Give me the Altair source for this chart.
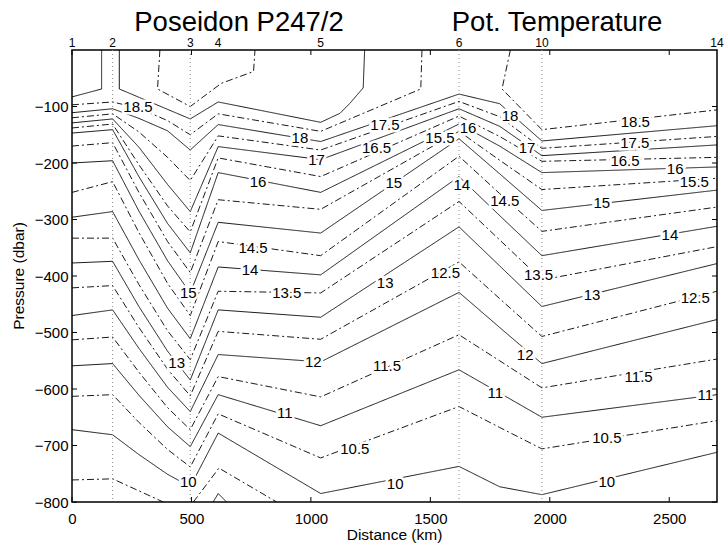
import altair as alt
import pandas as pd

# ---------------- data ----------------
# common horizontal grid (km) on which the full-width isotherms are given
grid_km = [0, 170, 280, 400, 495, 612, 1041, 1620, 1790, 1967, 2700]

# pressure (dbar) of each isotherm at the grid positions
p10  = [-672, -681, -716, -751, -773, -678, -785, -737, -773, -787, -712]
p10h = [-613, -610, -659, -707, -738, -644, -722, -631, -668, -706, -656]
p11  = [-559, -555, -611, -667, -702, -610, -665, -566, -607, -650, -610]
p11h = [-513, -508, -570, -633, -672, -578, -614, -504, -550, -598, -547]
p12  = [-470, -460, -528, -597, -640, -539, -552, -429, -491, -555, -477]
p12h = [-421, -417, -491, -565, -612, -498, -512, -375, -440, -507, -427]
p13  = [-377, -374, -454, -533, -584, -460, -473, -313, -382, -454, -378]
p13h = [-333, -333, -415, -497, -548, -427, -430, -268, -336, -407, -348]
p14  = [-296, -286, -371, -457, -511, -384, -398, -224, -293, -364, -312]
p14h = [-252, -233, -323, -413, -470, -339, -364, -188, -254, -321, -278]
p15  = [-200, -196, -285, -373, -430, -305, -324, -157, -219, -284, -248]
p15h = [-170, -164, -252, -339, -394, -265, -282, -144, -195, -247, -227]
p16  = [-147, -141, -224, -307, -359, -217, -252, -131, -170, -217, -207]
p16h = [-138, -131, -203, -276, -322, -191, -224, -117, -153, -197, -190]
p17  = [-129, -122, -172, -238, -286, -171, -194, -104, -135, -187, -168]
p17h = [-120, -113, -145, -190, -231, -152, -177, -91, -118, -174, -153]
p18  = [-111, -104, -121, -143, -177, -132, -162, -78, -95, -161, -134]

# partial isotherms (reaching the surface or the bottom)
seg19a_km = [0, 124, 124]
seg19a_p = [-83, -69, 0]
seg19b_km = [198, 198, 495, 612, 1041, 1122, 1164, 1219, 1225]
seg19b_p = [0, -69, -122, -92, -128, -112, -94, -67, 0]
seg195_km = [368, 358, 495, 625, 760, 766]
seg195_p = [0, -69, -100, -59, -38, 0]
seg185a_km = [0, 170, 280, 400, 495, 612, 1041, 1460, 1465]
seg185a_p = [-97, -92, -103, -125, -150, -113, -144, -69, 0]
seg185b_km = [1835, 1800, 1967, 2700]
seg185b_p = [0, -69, -141, -106]
seg95a_km = [0, 170, 382]
seg95a_p = [-761, -759, -800]
seg95b_km = [508, 615, 857]
seg95b_p = [-800, -740, -800]
seg9_km = [591, 612, 647]
seg9_p = [-800, -785, -800]

# inline contour labels
label_text = ["18.5", "18", "17", "16", "17.5", "16.5", "15.5", "16", "18", "17",
              "18.5", "17.5", "16.5", "16", "15.5", "15", "14", "15", "14", "14.5",
              "14.5", "14", "15", "13.5", "13", "12", "13", "12.5", "13.5", "13",
              "12.5", "12", "11.5", "11.5", "11", "11", "11", "10.5", "10.5", "10",
              "10", "10"]
label_km = [276, 954, 1024, 779, 1310, 1275, 1540, 1658, 1834, 1905,
            2358, 2356, 2315, 2525, 2605, 2218, 2503, 1347, 1632, 1812,
            758, 745, 487, 899, 438, 1010, 1311, 1563, 1953, 2177,
            2609, 1897, 1319, 2372, 1772, 2651, 891, 1184, 2239, 1353,
            2239, 487]
label_p = [-101, -155, -194, -233, -132, -174, -155, -138, -116, -173,
           -127, -165, -196, -211, -233, -271, -327, -236, -239, -268,
           -350, -389, -430, -430, -554, -553, -412, -395, -398, -433,
           -439, -539, -560, -578, -607, -610, -643, -707, -687, -769,
           -764, -765]

station_names = ["1", "2", "3", "4", "5", "6", "10", "14"]
station_km = [0, 170, 495, 612, 1041, 1620, 1967, 2700]
dotted_km = [170, 495, 1620, 1967]

x_ticks = [0, 500, 1000, 1500, 2000, 2500]
y_ticks = [-800, -700, -600, -500, -400, -300, -200, -100]

title_left = "Poseidon P247/2"
title_right = "Pot. Temperature"
x_title = "Distance (km)"
y_title = "Pressure (dbar)"

# ---------------- build table ----------------
levels = [(10.0, p10), (10.5, p10h), (11.0, p11), (11.5, p11h), (12.0, p12),
          (12.5, p12h), (13.0, p13), (13.5, p13h), (14.0, p14), (14.5, p14h),
          (15.0, p15), (15.5, p15h), (16.0, p16), (16.5, p16h), (17.0, p17),
          (17.5, p17h), (18.0, p18)]
rows = []
for lev, ps in levels:
    for i, (k, p) in enumerate(zip(grid_km, ps)):
        rows.append(dict(seg=f"L{lev}", style="solid" if float(lev).is_integer() else "dashdot",
                         km=k, p=p, i=i))
partials = [("P19a", 19.0, seg19a_km, seg19a_p), ("P19b", 19.0, seg19b_km, seg19b_p),
            ("P195", 19.5, seg195_km, seg195_p), ("P185a", 18.5, seg185a_km, seg185a_p),
            ("P185b", 18.5, seg185b_km, seg185b_p), ("P95a", 9.5, seg95a_km, seg95a_p),
            ("P95b", 9.5, seg95b_km, seg95b_p), ("P9", 9.0, seg9_km, seg9_p)]
for name, lev, ks, ps in partials:
    for i, (k, p) in enumerate(zip(ks, ps)):
        rows.append(dict(seg=name, style="solid" if float(lev).is_integer() else "dashdot",
                         km=k, p=p, i=i))
contours = pd.DataFrame(rows)

W, H = 645, 452
FONT = "Liberation Sans"

xs = alt.Scale(domain=[0, 2700], nice=False, zero=False)
ys = alt.Scale(domain=[-800, 0], nice=False, zero=False)

x_axis = alt.Axis(values=x_ticks, format="d", ticks=False, domain=False, grid=False,
                  labelFont=FONT, labelFontSize=15, labelColor="black", labelPadding=9,
                  labelFlush=False, labelOverlap=False, title=None)
y_axis = alt.Axis(values=y_ticks, format="d", ticks=False, domain=False, grid=False,
                  labelFont=FONT, labelFontSize=15, labelColor="black", labelPadding=4,
                  labelOverlap=False, title=None)

X = alt.X("km:Q", scale=xs, axis=x_axis)
Y = alt.Y("p:Q", scale=ys, axis=y_axis)

dots = alt.Chart(pd.DataFrame({"km": dotted_km})).mark_rule(
    color="#8a8a8a", strokeDash=[1, 3], strokeWidth=1
).encode(x=X, y=alt.value(0), y2=alt.value(H))

lines = alt.Chart(contours).mark_line(color="black", strokeWidth=0.9, clip=True).encode(
    x=X,
    y=Y,
    detail="seg:N",
    order="i:Q",
    strokeDash=alt.StrokeDash("style:N", scale=alt.Scale(domain=["solid", "dashdot"],
                                                         range=[[1, 0], [7, 3, 2, 3]]),
                              legend=None),
)

lab_df = pd.DataFrame({"t": label_text, "km": label_km, "p": label_p})
lab_bg = alt.Chart(lab_df).mark_text(
    font=FONT, fontSize=15, fill="white", stroke="white", strokeWidth=5,
    align="center", baseline="middle"
).encode(x=X, y=Y, text="t:N")
lab_fg = alt.Chart(lab_df).mark_text(
    font=FONT, fontSize=15, color="black", align="center", baseline="middle"
).encode(x=X, y=Y, text="t:N")

stn = alt.Chart(pd.DataFrame({"n": station_names, "km": station_km})).mark_text(
    font=FONT, fontSize=12, color="black", align="center", baseline="alphabetic"
).encode(x=X, y=alt.value(-3), text="n:N")

xt = pd.DataFrame({"km": x_ticks})
yt = pd.DataFrame({"p": y_ticks})
tick_b = alt.Chart(xt).mark_rule(color="black", strokeWidth=1).encode(
    x=X, y=alt.value(H), y2=alt.value(H - 5))
tick_t = alt.Chart(xt).mark_rule(color="black", strokeWidth=1).encode(
    x=X, y=alt.value(0), y2=alt.value(5))
tick_l = alt.Chart(yt).mark_rule(color="black", strokeWidth=1).encode(
    y=Y, x=alt.value(0), x2=alt.value(5))
tick_r = alt.Chart(yt).mark_rule(color="black", strokeWidth=1).encode(
    y=Y, x=alt.value(W), x2=alt.value(W - 5))

t_left = alt.Chart(pd.DataFrame({"t": [title_left]})).mark_text(
    font=FONT, fontSize=27.5, color="black", align="center", baseline="alphabetic"
).encode(x=alt.value(167), y=alt.value(-19), text="t:N")
t_right = alt.Chart(pd.DataFrame({"t": [title_right]})).mark_text(
    font=FONT, fontSize=27.5, color="black", align="center", baseline="alphabetic"
).encode(x=alt.value(485), y=alt.value(-19), text="t:N")
t_x = alt.Chart(pd.DataFrame({"t": [x_title]})).mark_text(
    font=FONT, fontSize=15.5, color="black", align="center", baseline="alphabetic"
).encode(x=alt.value(W / 2), y=alt.value(490), text="t:N")
t_y = alt.Chart(pd.DataFrame({"t": [y_title]})).mark_text(
    font=FONT, fontSize=15.5, color="black", align="center", baseline="alphabetic", angle=270
).encode(x=alt.value(-48), y=alt.value(H / 2), text="t:N")

chart = alt.layer(
    lines, dots, lab_bg, lab_fg, stn, tick_b, tick_t, tick_l, tick_r, t_left, t_right, t_x, t_y
).properties(
    width=W, height=H,
    padding={"left": 72, "top": 50, "right": 8, "bottom": 50},
    autosize=alt.AutoSizeParams(type="none"),
    background="white",
).configure_view(stroke="black", strokeWidth=1.5)

chart.save("out.html", embed_options={"renderer": "svg", "actions": False})
